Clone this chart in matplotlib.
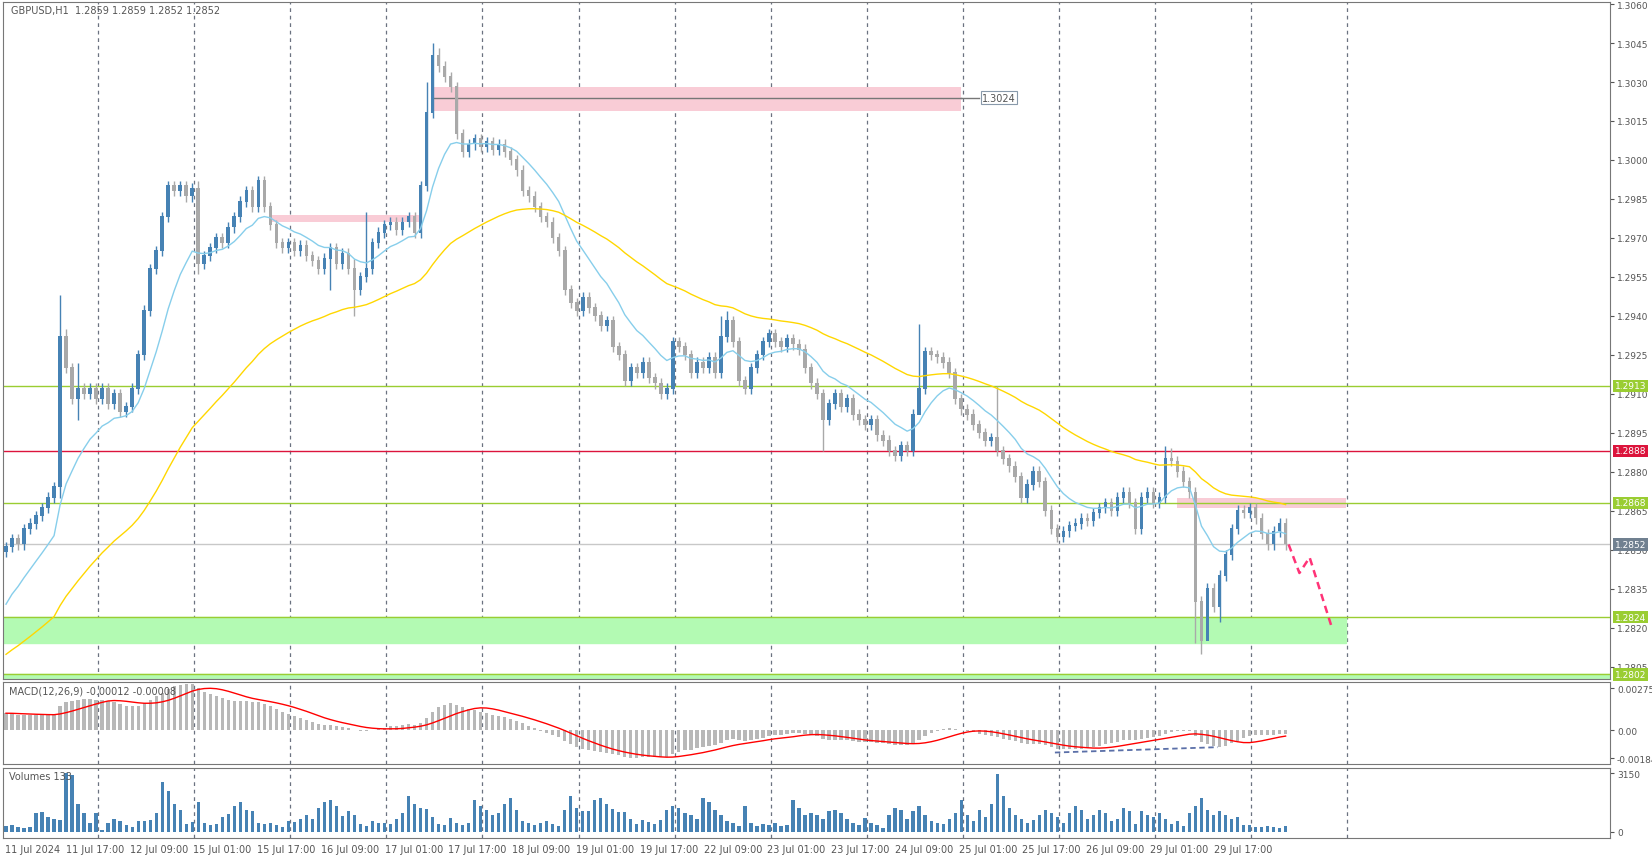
import matplotlib
matplotlib.use("Agg")
import matplotlib.pyplot as plt
import numpy as np

# closes in pips above 1.2800, one per H1 bar
closes = [51, 54, 52, 58, 60, 63, 66, 70, 74,
          132, 120, 108, 112,
          110, 112, 108, 112, 106, 110, 103, 105, 112,
          125, 142, 158, 165, 178, 190,
          188, 190, 186, 189, 160,
          163, 166, 170, 168, 174, 178,
          184, 188, 182, 192,
          182, 175, 168, 166,
          168, 165, 167, 163, 161, 158,
          162, 166, 160, 164, 158, 150,
          155, 158, 168, 172,
          175, 176, 173, 176, 178, 172,
          190, 218, 240,
          236, 232, 228, 210,
          203, 206, 208, 205, 207, 204, 206, 203,
          200, 196, 188, 186,
          182, 178, 176, 170, 165,
          150, 145, 142,
          147, 143, 140, 136, 138,
          128, 125, 115,
          120, 118, 122, 116, 114,
          110, 112,
          130, 128, 125,
          118, 122, 120, 124, 118, 132,
          138, 130,
          115, 112, 120,
          125, 130, 133,
          130, 128, 131, 129, 127,
          120, 114, 110,
          100, 106,
          110, 105, 108, 102,
          100, 98, 100, 94,
          92, 88, 86,
          90, 88,
          102, 112, 126,
          125, 124, 122, 118,
          108, 104, 102,
          98, 95, 92, 93,
          88, 85, 82, 78,
          70, 75, 80,
          76, 65, 58,
          55, 57, 59,
          60, 62, 61, 64,
          66, 68, 65, 70, 72, 68,
          58, 70, 72, 68, 70,
          85, 84, 80, 76, 72, 30, 15, 35, 28, 40, 48, 58, 65,
          64, 66, 62, 56, 52, 57, 60, 52]
first_open = 49
high_over = {9: 148, 10: 135, 12: 122, 32: 192, 58: 162, 60: 180, 70: 230, 71: 245, 72: 243,
             119: 140, 120: 142, 152: 137, 165: 113, 193: 90, 194: 89}
low_over = {9: 70, 12: 100, 32: 156, 54: 150, 58: 140, 136: 88, 198: 14, 199: 10,
            200: 22, 202: 22, 152: 108}
volumes = [300, 350, 250, 200, 260, 1000, 1050, 800, 700, 650,
           3150, 3050, 1500, 1000, 500, 1000, 100, 500, 700, 600,
           350, 250, 600, 600, 650, 1000, 2700, 2200, 1500, 1200,
           400, 550, 1600, 500, 350, 400, 800, 950, 1400, 1600,
           1200, 1100, 500, 400, 500, 350, 250, 600, 550, 700,
           900, 700, 1300, 1600, 1700, 1400, 850, 1100, 900, 400,
           300, 600, 500, 450, 400, 700, 1000, 1900, 1500, 1300,
           1250, 800, 400, 350, 750, 500, 350, 450, 1700, 1400,
           1200, 900, 1000, 1500, 1800, 1150, 600, 450, 350, 450,
           600, 400, 300, 1200, 1900, 1300, 1100, 1100, 1700, 1800,
           1500, 1250, 1050, 1050, 700, 400, 650, 550, 400, 650,
           1200, 1400, 1300, 1000, 900, 700, 1800, 1600, 1200, 900,
           600, 450, 300, 1400, 500, 300, 400, 350, 450, 300,
           350, 1700, 1300, 900, 1000, 900, 700, 1100, 1200, 1000,
           700, 500, 350, 750, 500, 350, 200, 900, 1300, 1200,
           700, 1100, 1400, 900, 600, 500, 400, 700, 1000, 1700,
           900, 600, 1200, 800, 1500, 3100, 1900, 1300, 900, 700,
           450, 650, 900, 1200, 1000, 800, 500, 1000, 1400, 1200,
           700, 900, 1200, 1000, 600, 700, 1300, 1100, 400, 1100,
           900, 800, 1000, 700, 400, 600, 300, 1000, 1400, 1800,
           1200, 900, 1100, 900, 700, 800, 350, 350, 250, 250,
           300, 250, 200, 300]

y_ticks = [1.3060 - 0.0015 * k for k in range(18)]
levels = [(1.2913, "#9acd32"), (1.2888, "#dc143c"), (1.2868, "#9acd32"),
          (1.2824, "#9acd32"), (1.2802, "#9acd32")]
date_labels = ["11 Jul 17:00", "12 Jul 09:00", "15 Jul 01:00", "15 Jul 17:00", "16 Jul 09:00",
               "17 Jul 01:00", "17 Jul 17:00", "18 Jul 09:00", "19 Jul 01:00", "19 Jul 17:00",
               "22 Jul 09:00", "23 Jul 01:00", "23 Jul 17:00", "24 Jul 09:00", "25 Jul 01:00",
               "25 Jul 17:00", "26 Jul 09:00", "29 Jul 01:00", "29 Jul 17:00"]

n = len(closes)
c = 1.28 + np.array(closes) / 10000
o = np.concatenate([[1.28 + first_open / 10000], c[:-1]])
h = np.maximum(o, c) + 0.0002
l = np.minimum(o, c) - 0.0002
for k, v in high_over.items():
    h[k] = 1.28 + v / 10000
for k, v in low_over.items():
    l[k] = 1.28 + v / 10000
x = np.arange(n)
vol = np.array((volumes + [300] * n)[:n])


def ema(vals, period, seed):
    a = 2 / (period + 1)
    out, cur = [], seed
    for v in vals:
        cur = cur + a * (v - cur)
        out.append(cur)
    return np.array(out)


fast = ema(c, 12, 1.2825)
slow = ema(c, 50, 1.2808)
macd = ema(c, 12, 1.2850) - ema(c, 26, 1.2838)
signal = np.convolve(np.concatenate([[macd[0]] * 8, macd]), np.ones(9) / 9, mode="valid")

W, H = 1652, 862
fig = plt.figure(figsize=(W / 100, H / 100), dpi=100)
left, width = 3 / W, 1607 / W
ax = fig.add_axes([left, 1 - 680 / H, width, 677 / H])
axm = fig.add_axes([left, 1 - 765 / H, width, 82 / H])
axv = fig.add_axes([left, 1 - 839 / H, width, 70 / H])
XMAX = 267
grid_x = np.arange(15.3, 225, 16)
tc = "#555555"

for a in (ax, axm, axv):
    a.set_xlim(-0.5, XMAX)
    for g in grid_x:
        a.axvline(g, color="#6b7280", lw=0.9, ls=(0, (3, 3)), zorder=0)
    a.set_xticks([])
    a.yaxis.tick_right()
    a.tick_params(axis="y", labelsize=6.5, colors=tc, length=3, pad=2)
    for s in a.spines.values():
        s.set_color("#777777")

# main price panel
ax.set_ylim(1.28002, 1.30608)
ax.set_yticks(y_ticks)
ax.set_yticklabels([f"{v:.4f}" for v in y_ticks])
ax.axhspan(1.2814, 1.2824, xmin=0, xmax=(223 + 0.5) / (XMAX + 0.5), color="#b3fab3", zorder=1)
ax.axhspan(1.28, 1.2802, color="#b3fab3", zorder=1)
ax.fill_between([71, 159], 1.3019, 1.3028, color="#f9ccd6", zorder=1, lw=0)
ax.fill_between([44, 69], 1.2976, 1.2979, color="#f9ccd6", zorder=1, lw=0)
ax.fill_between([195, 223], 1.2866, 1.2870, color="#f9ccd6", zorder=1, lw=0)
ax.plot([71, 159], [1.3024, 1.3024], color="#777777", lw=1, zorder=4)
ax.plot([159, 162], [1.3024, 1.3024], color="#777777", lw=1)
ax.text(162.5, 1.3024, "1.3024", fontsize=7, color=tc, va="center",
        bbox=dict(boxstyle="square,pad=0.15", fc="white", ec="#8899aa", lw=0.8))
for lv, col in levels:
    ax.axhline(lv, color=col, lw=1, zorder=2)
ax.axhline(1.2852, color="#c8c8c8", lw=1, zorder=2)
for lv, col in levels + [(1.2852, "#708090")]:
    ax.text(1.003, lv, f"{lv:.4f}", transform=ax.get_yaxis_transform(), fontsize=6.5,
            color="white", va="center", ha="left",
            bbox=dict(boxstyle="square,pad=0.2", fc=col, ec="none"))

up = c >= o
for i in range(n):
    col = "#4682b4" if up[i] else "#a9a9a9"
    ax.vlines(x[i], l[i], h[i], color=col, lw=1, zorder=5)
    ax.bar(x[i], abs(c[i] - o[i]) + 0.00003, bottom=min(o[i], c[i]), width=0.6, color=col, zorder=5)
ax.plot(x, fast, color="#87ceeb", lw=1, zorder=6)
ax.plot(x, slow, color="#ffd700", lw=1, zorder=6)
ax.plot([213.5, 215.3, 217, 220.7], [1.2852, 1.2841, 1.2847, 1.2820], color="#ff3377",
        lw=1.8, ls=(0, (3, 2)), zorder=7)
ax.text(0.005, 0.995, "GBPUSD,H1  1.2859 1.2859 1.2852 1.2852", transform=ax.transAxes,
        fontsize=7, color=tc, va="top")

# MACD panel
axm.set_ylim(-0.0022, 0.00316)
axm.set_yticks([0.00275, 0.0, -0.00184])
axm.set_yticklabels(["0.00275", "0.00", "-0.00184"])
axm.bar(x, macd, width=0.55, color="#b8b8b8", zorder=2)
axm.plot(x, signal, color="#ff0000", lw=1, zorder=3)
axm.plot([174.6, 201.7], [-0.00145, -0.00110], color="#5a6fa8", lw=1.3, ls=(0, (3, 2)), zorder=4)
axm.text(0.004, 0.96, "MACD(12,26,9) -0.00012 -0.00008", transform=axm.transAxes,
         fontsize=7, color=tc, va="top")

# volume panel
axv.set_ylim(-330, 3430)
axv.set_yticks([3150, 0])
axv.set_yticklabels(["3150", "0"])
axv.bar(x, vol, width=0.55, color="#4682b4", zorder=2)
axv.text(0.004, 0.96, "Volumes 133", transform=axv.transAxes, fontsize=7, color=tc, va="top")

# date scale
fig.text(left + 2 / W, 1 - 850 / H, "11 Jul 2024", fontsize=7, color=tc, va="center")
for k, lab in enumerate(date_labels):
    px = (90 + 60.5 * k) * 1.0543
    fig.text(px / W, 1 - 850 / H, lab, fontsize=7, color=tc, va="center", ha="center")

fig.savefig("out.png", dpi=100)
